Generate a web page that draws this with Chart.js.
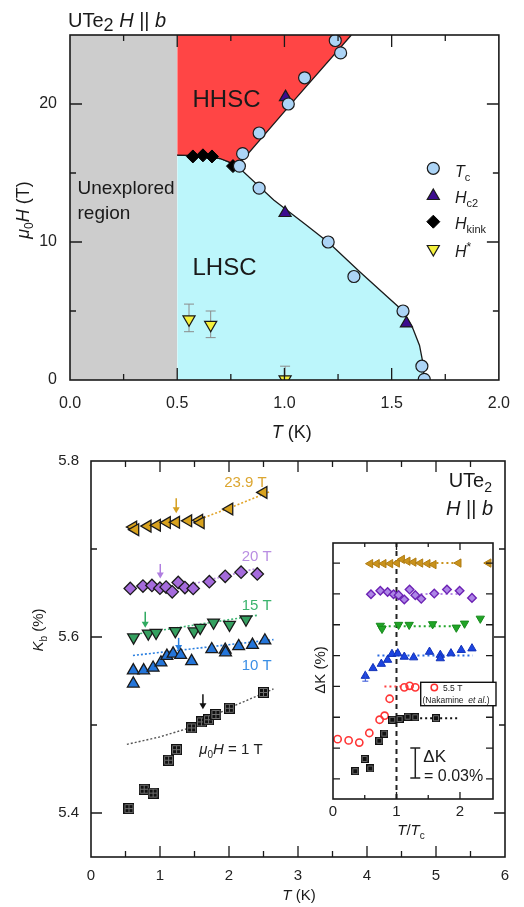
<!DOCTYPE html>
<html>
<head>
<meta charset="utf-8">
<script src="https://cdn.jsdelivr.net/npm/chart.js@4.4.1/dist/chart.umd.min.js"></script>
<style>
  body { margin: 0; background: #fff; }
  #wrap { position: relative; width: 524px; height: 907px; overflow: hidden; }
  canvas { position: absolute; }
</style>
</head>
<body>
<div id="wrap">
  <canvas id="phase" width="524" height="452" style="left:0;top:0"></canvas>
  <canvas id="knight" width="524" height="467" style="left:0;top:440px"></canvas>
  <canvas id="inset" width="234" height="320" style="left:290px;top:530px"></canvas>
</div>
<script>
// ------------------
// data: phase diagram (H || b)
// ------------------
const tcT = [1.237, 1.262, 1.094, 1.018, 0.882, 0.805, 0.79, 0.882, 1.204, 1.324, 1.553, 1.641, 1.652];
const tcH = [24.6, 23.7, 21.9, 20.0, 17.9, 16.4, 15.5, 13.9, 10.0, 7.5, 5.0, 1.0, 0.05];
const hc2T = [1.005, 1.003, 1.569];
const hc2H = [20.5, 12.1, 4.1];
const kinkT = [0.573, 0.62, 0.662, 0.76];
const kinkH = [16.2, 16.28, 16.2, 15.5];
const hstarT = [0.555, 0.656, 1.003];
const hstarH = [4.4, 4.0, 0.05];
const hstarLo = [3.5, 3.07, 0];
const hstarHi = [5.5, 5.0, 1.0];

// phase boundaries
const hhscT = [0.5, 0.62, 0.70, 0.74, 0.78, 1.05, 1.312];
const hhscH = [16.3, 16.25, 16.05, 15.8, 15.5, 20.35, 25];
const lhscT = [0.5, 0.62, 0.70, 0.74, 0.78, 0.95, 1.10, 1.207, 1.351, 1.45, 1.553, 1.60, 1.63, 1.645, 1.652];
const lhscH = [16.3, 16.25, 16.05, 15.8, 15.5, 13.04, 11.25, 9.95, 7.85, 6.45, 5.0, 3.7, 2.5, 1.3, 0];
const unexploredT = [0, 0.5];
const unexploredH = [25, 25];

// ------------------
// data: Knight shift K_b vs T
// ------------------
const k1T = [0.55, 0.77, 0.90, 1.125, 1.24, 1.458, 1.60, 1.703, 1.81, 2.005, 2.50];
const k1K = [5.405, 5.427, 5.4226, 5.460, 5.472, 5.4967, 5.5035, 5.506, 5.512, 5.519, 5.537];
const k10T = [0.613, 0.613, 0.763, 0.90, 1.014, 1.10, 1.19, 1.30, 1.458, 1.75, 1.945, 1.95, 2.14, 2.34, 2.52];
const k10K = [5.547, 5.562, 5.562, 5.565, 5.571, 5.5785, 5.581, 5.5795, 5.5725, 5.586, 5.5855, 5.5825, 5.5895, 5.591, 5.596];
const k15T = [0.617, 0.83, 0.943, 1.223, 1.493, 1.583, 1.776, 2.007, 2.246];
const k15K = [5.5996, 5.604, 5.6049, 5.6068, 5.6064, 5.6105, 5.6165, 5.614, 5.62];
const k20T = [0.569, 0.753, 0.883, 0.999, 1.088, 1.177, 1.264, 1.361, 1.481, 1.715, 1.945, 2.175, 2.41];
const k20K = [5.6552, 5.6579, 5.6586, 5.6555, 5.6567, 5.6513, 5.662, 5.6562, 5.6552, 5.6628, 5.669, 5.6737, 5.6716];
const k24T = [0.612, 0.642, 0.82, 0.956, 1.10, 1.233, 1.409, 1.568, 1.59, 2.005, 2.50];
const k24K = [5.725, 5.722, 5.726, 5.727, 5.730, 5.7303, 5.732, 5.7326, 5.7298, 5.7455, 5.7643];

// normal-state guide lines
const fit1T = [0.52, 1.0, 1.44, 2.02, 2.645];
const fit1K = [5.478, 5.4865, 5.497, 5.52, 5.541];
const fit10T = [0.608, 2.645];
const fit10K = [5.579, 5.597];
const fit15T = [0.714, 2.404];
const fit15K = [5.604, 5.6246];
const fit20T = [1.438, 2.428];
const fit20K = [5.6596, 5.6785];
const fit24T = [1.583, 2.0, 2.3, 2.6];
const fit24K = [5.734, 5.7465, 5.756, 5.7655];

// Tc arrows: 1 T, 10 T, 15 T, 20 T, 23.9 T
const arrowT = [1.622, 1.27, 0.786, 1.004, 1.235];
const arrowFrom = [5.535, 5.599, 5.6286, 5.683, 5.7577];
const arrowTo = [5.518, 5.584, 5.6105, 5.6664, 5.7407];

// ------------------
// data: inset, dK (offset units of 0.03 %) vs T/Tc
// ------------------
const inGoldV = [0.587, 0.691, 0.797, 0.902, 1.008, 1.087, 1.175, 1.269, 1.375, 1.49, 1.585, 1.978, 2.45];
const inGoldU = [6.98, 6.98, 6.98, 6.98, 7.0, 7.12, 7.06, 7.03, 7.0, 6.98, 6.95, 7.0, 7.0];
const inPurV = [0.598, 0.745, 0.86, 0.954, 1.033, 1.123, 1.206, 1.296, 1.39, 1.595, 1.795, 1.994, 2.189];
const inPurU = [5.99, 6.10, 6.06, 5.99, 5.96, 5.82, 6.14, 5.96, 5.84, 6.01, 6.14, 6.10, 5.87];
const inGrnV = [0.745, 0.772, 1.033, 1.20, 1.569, 1.942, 2.072, 2.320];
const inGrnU = [4.97, 4.87, 5.0, 5.0, 5.02, 4.91, 5.04, 5.20];
const inBluV = [0.509, 0.630, 0.761, 0.860, 0.929, 1.020, 1.123, 1.270, 1.52, 1.690, 1.690, 1.858, 2.020, 2.189];
const inBluU = [3.34, 3.59, 3.73, 3.86, 4.05, 4.07, 3.96, 3.94, 4.12, 4.02, 3.91, 4.07, 4.18, 4.23];
const inRedV = [0.073, 0.246, 0.414, 0.572, 0.734, 0.813, 0.892, 1.123, 1.207, 1.296];
const inRedU = [1.29, 1.25, 1.18, 1.49, 1.92, 2.05, 2.60, 2.97, 3.02, 2.97];
const inBlkV = [0.351, 0.498, 0.587, 0.729, 0.808, 0.934, 1.049, 1.175, 1.296, 1.622];
const inBlkU = [0.25, 0.65, 0.34, 1.24, 1.47, 1.92, 1.94, 2.02, 2.00, 1.97];

// inset guide lines (v range, level)
const inGoldLineV = [1.55, 1.97];
const inGoldLineU = [7.0, 7.0];
const inPurLineV = [1.3, 2.0];
const inPurLineU = [6.0, 6.0];
const inGrnLineV = [0.72, 2.0];
const inGrnLineU = [4.95, 4.95];
const inBluLineV = [0.70, 2.2];
const inBluLineU = [4.0, 4.0];
const inRedLineV = [0.81, 1.12];
const inRedLineU = [3.0, 3.0];
const inBlkLineV = [0.9, 2.0];
const inBlkLineU = [1.97, 1.97];

// ------------------
// helpers
// ------------------
const FONT = '"Liberation Sans", Arial, Helvetica, sans-serif';
const INK = '#1a1a1a';

function near(v, step) {
  const r = v / step;
  return Math.abs(r - Math.round(r)) < 1e-6;
}

function pts(xs, ys) {
  return xs.map((x, i) => ({ x: x, y: ys[i] }));
}

function markers(xs, ys, style, r, fill, edge, bw, rot) {
  return {
    data: pts(xs, ys), showLine: false,
    pointStyle: style, pointRadius: r, pointRotation: rot || 0,
    pointBackgroundColor: fill, pointBorderColor: edge, pointBorderWidth: bw
  };
}

function curve(xs, ys, color, width, dash, extra) {
  return Object.assign({
    data: pts(xs, ys), borderColor: color, borderWidth: width,
    borderDash: dash || [], pointRadius: 0, fill: false, tension: 0
  }, extra || {});
}

// black square with light cross, like the original symbols
function squareMark(size, cross) {
  const c = document.createElement('canvas');
  c.width = size; c.height = size;
  const g = c.getContext('2d');
  g.fillStyle = '#111';
  g.fillRect(0, 0, size, size);
  g.strokeStyle = '#6e6e6e';
  g.lineWidth = 1;
  g.beginPath();
  if (cross) {
    const m = Math.floor(size / 2) + 0.5;
    g.moveTo(m, 2); g.lineTo(m, size - 2);
    g.moveTo(2, m); g.lineTo(size - 2, m);
  }
  g.rect(1.5, 1.5, size - 3, size - 3);
  g.stroke();
  return c;
}

// text with mixed italic / sub / superscript parts
function rich(ctx, parts, x, y, align, rot) {
  ctx.save();
  ctx.translate(x, y);
  if (rot) ctx.rotate(rot);
  const fonts = parts.map(p => (p.it ? 'italic ' : '') + (p.sz || 16) + 'px ' + FONT);
  let w = 0;
  parts.forEach((p, i) => { ctx.font = fonts[i]; w += ctx.measureText(p.t).width; });
  let cx = align === 'center' ? -w / 2 : align === 'right' ? -w : 0;
  ctx.textAlign = 'left';
  ctx.textBaseline = 'alphabetic';
  parts.forEach((p, i) => {
    ctx.font = fonts[i];
    ctx.fillStyle = p.c || INK;
    ctx.fillText(p.t, cx, p.dy || 0);
    cx += ctx.measureText(p.t).width;
  });
  ctx.restore();
}

function mark(ctx, style, r, rot, fill, edge, bw, x, y) {
  ctx.save();
  ctx.fillStyle = fill;
  ctx.strokeStyle = edge;
  ctx.lineWidth = bw;
  Chart.helpers.drawPoint(ctx, { pointStyle: style, radius: r, rotation: rot || 0, borderWidth: bw }, x, y);
  ctx.restore();
}

// box + inward tick marks on all four sides
function frame(o) {
  return {
    id: 'frame',
    afterDatasetsDraw(chart) {
      const { ctx, chartArea: a } = chart;
      const sx = chart.scales.x, sy = chart.scales.y;
      ctx.save();
      ctx.strokeStyle = INK;
      ctx.lineWidth = 1.3;
      ctx.beginPath();
      sx.ticks.forEach(t => {
        if (!near(t.value, o.xMinor)) return;
        const p = sx.getPixelForValue(t.value);
        if (p < a.left + 2 || p > a.right - 2) return;
        const len = near(t.value, o.xMajor) ? o.major : o.minor;
        ctx.moveTo(p, a.bottom); ctx.lineTo(p, a.bottom - len);
        ctx.moveTo(p, a.top); ctx.lineTo(p, a.top + len);
      });
      sy.ticks.forEach(t => {
        if (!near(t.value, o.yMinor)) return;
        const p = sy.getPixelForValue(t.value);
        if (p < a.top + 2 || p > a.bottom - 2) return;
        const len = near(t.value, o.yMajor) ? o.major : o.minor;
        ctx.moveTo(a.left, p); ctx.lineTo(a.left + len, p);
        ctx.moveTo(a.right, p); ctx.lineTo(a.right - len, p);
      });
      ctx.stroke();
      ctx.lineWidth = o.border;
      ctx.strokeRect(a.left, a.top, a.width, a.height);
      ctx.restore();
    }
  };
}

function axis(min, max, step, size, pad, fontSize, fmt, isX, show) {
  return {
    type: 'linear', min: min, max: max,
    grid: { display: false, drawTicks: false },
    border: { display: false },
    afterFit: s => { if (isX) s.height = size; else s.width = size; },
    ticks: {
      display: show !== false,
      stepSize: step, includeBounds: true, autoSkip: false, maxRotation: 0,
      padding: pad, color: '#222', font: { family: FONT, size: fontSize },
      callback: fmt
    }
  };
}

const base = {
  responsive: false, animation: false, devicePixelRatio: 1, events: [],
  plugins: { legend: { display: false }, tooltip: { enabled: false } }
};

// ------------------
// top: phase diagram
// ------------------
const phaseNotes = {
  id: 'phaseNotes',
  beforeDatasetDraw(chart, args) {
    if (args.index !== 3) return;
    const { ctx, chartArea: a } = chart;
    const sx = chart.scales.x, sy = chart.scales.y;
    ctx.save();
    ctx.beginPath();
    ctx.rect(a.left, a.top, a.width, a.height);
    ctx.clip();
    ctx.strokeStyle = '#8c8c8c';
    ctx.lineWidth = 1;
    ctx.beginPath();
    hstarT.forEach((t, i) => {
      const x = sx.getPixelForValue(t);
      const y1 = sy.getPixelForValue(hstarLo[i]);
      const y2 = sy.getPixelForValue(hstarHi[i]);
      ctx.moveTo(x, y1); ctx.lineTo(x, y2);
      ctx.moveTo(x - 5, y1); ctx.lineTo(x + 5, y1);
      ctx.moveTo(x - 5, y2); ctx.lineTo(x + 5, y2);
    });
    ctx.stroke();
    ctx.restore();
  },
  afterDraw(chart) {
    const ctx = chart.ctx;
    rich(ctx, [{ t: 'UTe', sz: 20 }, { t: '2', sz: 18, dy: 4 }, { t: ' H', sz: 20, it: true },
      { t: ' || ', sz: 20 }, { t: 'b', sz: 20, it: true }], 68, 26.5, 'left');
    rich(ctx, [{ t: 'HHSC', sz: 24 }], 192.5, 106.5, 'left');
    rich(ctx, [{ t: 'LHSC', sz: 24 }], 192.5, 275, 'left');
    rich(ctx, [{ t: 'Unexplored', sz: 19 }], 77.5, 193.5, 'left');
    rich(ctx, [{ t: 'region', sz: 19 }], 77.5, 218.5, 'left');

    // legend
    mark(ctx, 'circle', 6, 0, '#acd4f6', INK, 1.2, 433.3, 168.3);
    mark(ctx, 'triangle', 7, 0, '#3c0c8e', INK, 1.2, 433.3, 196);
    mark(ctx, 'rectRot', 6.5, 0, '#000', '#000', 1, 433.3, 221.7);
    mark(ctx, 'triangle', 7, 180, '#f4f03c', INK, 1.2, 433.3, 249);
    rich(ctx, [{ t: 'T', sz: 16, it: true }, { t: 'c', sz: 11, dy: 4 }], 455, 176.7, 'left');
    rich(ctx, [{ t: 'H', sz: 16, it: true }, { t: 'c2', sz: 11, dy: 4 }], 455, 203.3, 'left');
    rich(ctx, [{ t: 'H', sz: 16, it: true }, { t: 'kink', sz: 11, dy: 4 }], 455, 229.3, 'left');
    rich(ctx, [{ t: 'H', sz: 16, it: true }, { t: '*', sz: 12, dy: -6 }], 455, 257.3, 'left');

    // axis titles
    rich(ctx, [{ t: 'T', sz: 18, it: true }, { t: ' (K)', sz: 18 }], 291.7, 438, 'center');
    rich(ctx, [{ t: '\u03bc', sz: 18, it: true }, { t: '0', sz: 12, dy: 4 }, { t: 'H', sz: 18, it: true },
      { t: ' (T)', sz: 18 }], 28.5, 210, 'center', -Math.PI / 2);
  }
};

new Chart(document.getElementById('phase'), {
  type: 'line',
  data: {
    datasets: [
      markers(tcT, tcH, 'circle', 6, '#acd4f6', INK, 1.2),
      markers(hc2T, hc2H, 'triangle', 7, '#3c0c8e', INK, 1.2),
      markers(kinkT, kinkH, 'rectRot', 6.5, '#000', '#000', 1),
      markers(hstarT, hstarH, 'triangle', 7, '#f4f03c', INK, 1.2, 180),
      curve(hhscT, hhscH, INK, 1.3, [], { fill: 'end', backgroundColor: '#ff4545' }),
      curve(lhscT, lhscH, INK, 1.3, [], { fill: 'origin', backgroundColor: '#bcf6fb' }),
      curve(unexploredT, unexploredH, 'rgba(0,0,0,0)', 1, [], { fill: 'origin', backgroundColor: '#cdcdcd' })
    ]
  },
  options: Object.assign({}, base, {
    layout: { padding: { left: 0, right: 12, top: 35, bottom: 0 } },
    scales: {
      x: axis(0, 2, 0.25, 72, 14, 16, v => near(v, 0.5) ? v.toFixed(1) : '', true),
      y: axis(0, 25, 5, 70, 13, 16, v => near(v, 10) ? String(v) : '', false)
    }
  }),
  plugins: [frame({ xMinor: 0.25, xMajor: 0.5, yMinor: 5, yMajor: 10, major: 12, minor: 6, border: 1.6 }), phaseNotes]
});

// ------------------
// bottom: K_b vs T
// ------------------
const SQ = squareMark(11, true);
const SQS = squareMark(8, false);
const OY = 440;

const knightNotes = {
  id: 'knightNotes',
  afterDatasetsDraw(chart) {
    const ctx = chart.ctx;
    const sx = chart.scales.x, sy = chart.scales.y;
    const cols = ['#111', '#2a7fe0', '#2faa60', '#b07ee0', '#d6a020'];
    arrowT.forEach((t, i) => {
      const x = sx.getPixelForValue(t);
      const y1 = sy.getPixelForValue(arrowFrom[i]);
      const y2 = sy.getPixelForValue(arrowTo[i]);
      ctx.save();
      ctx.strokeStyle = cols[i];
      ctx.fillStyle = cols[i];
      ctx.lineWidth = 1.5;
      ctx.beginPath();
      ctx.moveTo(x, y1); ctx.lineTo(x, y2 - 5);
      ctx.stroke();
      ctx.beginPath();
      ctx.moveTo(x - 3.5, y2 - 6); ctx.lineTo(x + 3.5, y2 - 6); ctx.lineTo(x, y2);
      ctx.closePath();
      ctx.fill();
      ctx.restore();
    });
  },
  afterDraw(chart) {
    const ctx = chart.ctx;
    rich(ctx, [{ t: 'UTe', sz: 20 }, { t: '2', sz: 14, dy: 5 }], 492, 486.7 - OY, 'right');
    rich(ctx, [{ t: 'H', sz: 20, it: true }, { t: ' || ', sz: 20 }, { t: 'b', sz: 20, it: true }], 493, 515 - OY, 'right');
    rich(ctx, [{ t: '23.9 T', sz: 15, c: '#dca631' }], 266.7, 486.5 - OY, 'right');
    rich(ctx, [{ t: '20 T', sz: 15, c: '#b98ee2' }], 271.7, 560.5 - OY, 'right');
    rich(ctx, [{ t: '15 T', sz: 15, c: '#3cb46e' }], 271.7, 610 - OY, 'right');
    rich(ctx, [{ t: '10 T', sz: 15, c: '#3b8fe6' }], 271.7, 670 - OY, 'right');
    rich(ctx, [{ t: '\u03bc', sz: 15, it: true, c: '#222' }, { t: '0', sz: 10, dy: 4, c: '#222' },
      { t: 'H', sz: 15, it: true, c: '#222' }, { t: ' = 1 T', sz: 15, c: '#222' }], 199.3, 754 - OY, 'left');
    rich(ctx, [{ t: 'T', sz: 15, it: true }, { t: ' (K)', sz: 15 }], 299, 900 - OY, 'center');
    rich(ctx, [{ t: 'K', sz: 15, it: true }, { t: 'b', sz: 10, dy: 4 }, { t: ' (%)', sz: 15 }],
      43, 630 - OY, 'center', -Math.PI / 2);
  }
};

new Chart(document.getElementById('knight'), {
  type: 'line',
  data: {
    datasets: [
      markers(k1T, k1K, SQ, 5, '#111', '#111', 0),
      markers(k10T, k10K, 'triangle', 6.8, '#2475d9', INK, 1.3),
      markers(k15T, k15K, 'triangle', 6.8, '#35a060', INK, 1.3, 180),
      markers(k20T, k20K, 'rectRot', 6.2, '#a56bdc', INK, 1.3),
      markers(k24T, k24K, 'triangle', 6.8, '#d8a21e', INK, 1.3, -90),
      curve(fit1T, fit1K, '#555', 1.4, [2, 2]),
      curve(fit10T, fit10K, '#2a7fe0', 1.6, [2, 2]),
      curve(fit15T, fit15K, '#3cb371', 1.6, [2, 2]),
      curve(fit20T, fit20K, '#b88de0', 1.6, [2, 2]),
      curve(fit24T, fit24K, '#e2a52a', 1.6, [2, 2])
    ]
  },
  options: Object.assign({}, base, {
    layout: { padding: { left: 0, right: 19, top: 19, bottom: 0 } },
    scales: {
      x: axis(0, 6, 0.5, 50, 10, 15, v => near(v, 1) ? String(Math.round(v)) : '', true),
      y: axis(5.35, 5.8, 0.1, 91, 12, 15, v => (near(v, 0.2) && v > 5.38) ? v.toFixed(1) : '', false)
    }
  }),
  plugins: [frame({ xMinor: 0.5, xMajor: 1, yMinor: 0.1, yMajor: 0.2, major: 11, minor: 6, border: 1.6 }), knightNotes]
});

// ------------------
// inset: dK vs T/Tc
// ------------------
const IX = 290, IY = 530;

const insetNotes = {
  id: 'insetNotes',
  beforeDraw(chart) {
    const { ctx, chartArea: a } = chart;
    ctx.save();
    ctx.fillStyle = '#fff';
    ctx.fillRect(a.left, a.top, a.width, a.height);
    ctx.restore();
  },
  afterDatasetsDraw(chart) {
    const ctx = chart.ctx;
    const sx = chart.scales.x, sy = chart.scales.y;
    // scale bar, 1 unit = 0.03 %
    const bx = sx.getPixelForValue(1.296);
    const b1 = sy.getPixelForValue(1.0), b2 = sy.getPixelForValue(0.03);
    ctx.save();
    ctx.strokeStyle = '#222';
    ctx.lineWidth = 1.5;
    ctx.beginPath();
    ctx.moveTo(bx, b1); ctx.lineTo(bx, b2);
    ctx.moveTo(bx - 5, b1); ctx.lineTo(bx + 5, b1);
    ctx.moveTo(bx - 5, b2); ctx.lineTo(bx + 5, b2);
    ctx.stroke();
    // error bar on lowest 10 T point
    const ex = sx.getPixelForValue(inBluV[0]);
    const eLo = sy.getPixelForValue(inBluU[0] - 0.17);
    ctx.strokeStyle = '#3050d8';
    ctx.lineWidth = 1;
    ctx.beginPath();
    ctx.moveTo(ex, eLo); ctx.lineTo(ex, sy.getPixelForValue(inBluU[0] + 0.17));
    ctx.moveTo(ex - 3, eLo); ctx.lineTo(ex + 3, eLo);
    ctx.stroke();
    ctx.restore();
  },
  afterDraw(chart) {
    const ctx = chart.ctx;
    // legend box for Nakamine et al.
    ctx.save();
    ctx.fillStyle = '#fff';
    ctx.fillRect(420.7 - IX, 682.3 - IY, 75.3, 23.4);
    ctx.strokeStyle = '#111';
    ctx.lineWidth = 1.4;
    ctx.strokeRect(420.7 - IX, 682.3 - IY, 75.3, 23.4);
    ctx.restore();
    mark(ctx, 'circle', 3.2, 0, 'rgba(255,255,255,0)', '#ff3030', 1.5, 434.3 - IX, 687.5 - IY);
    rich(ctx, [{ t: '5.5 T', sz: 8.5 }], 443 - IX, 690.5 - IY, 'left');
    rich(ctx, [{ t: '(Nakamine  ', sz: 8.5 }, { t: 'et al.', sz: 8.5, it: true }, { t: ')', sz: 8.5 }],
      422.5 - IX, 703 - IY, 'left');
    rich(ctx, [{ t: '\u0394K', sz: 17 }], 423.3 - IX, 762 - IY, 'left');
    rich(ctx, [{ t: '= 0.03%', sz: 16 }], 424 - IX, 780.5 - IY, 'left');
    rich(ctx, [{ t: 'T', sz: 15, it: true }, { t: '/', sz: 15 }, { t: 'T', sz: 15, it: true }, { t: 'c', sz: 10, dy: 4 }],
      411 - IX, 835 - IY, 'center');
    rich(ctx, [{ t: '\u0394K (%)', sz: 15 }], 325 - IX, 670 - IY, 'center', -Math.PI / 2);
  }
};

new Chart(document.getElementById('inset'), {
  type: 'line',
  data: {
    datasets: [
      markers(inBlkV, inBlkU, SQS, 4, '#111', '#111', 0),
      markers(inRedV, inRedU, 'circle', 3.6, 'rgba(255,255,255,0)', '#ff3535', 1.6),
      markers(inBluV, inBluU, 'triangle', 4.8, '#1c44e0', '#1232b8', 1),
      markers(inGrnV, inGrnU, 'triangle', 4.8, '#20a526', '#178a1c', 1, 180),
      markers(inPurV, inPurU, 'rectRot', 4.3, '#ad85e6', '#6c22b4', 1.4),
      markers(inGoldV, inGoldU, 'triangle', 4.8, '#c9921c', '#b07c12', 1, -90),
      curve(inBlkLineV, inBlkLineU, '#111', 2, [2, 3]),
      curve(inRedLineV, inRedLineU, '#ff4040', 2, [2, 3]),
      curve(inBluLineV, inBluLineU, '#2a6ae0', 2, [2, 3]),
      curve(inGrnLineV, inGrnLineU, '#22a52a', 2, [2, 3]),
      curve(inPurLineV, inPurLineU, '#b58ae6', 2, [2, 3]),
      curve(inGoldLineV, inGoldLineU, '#c9921c', 2, [2, 3]),
      curve([1, 1], [-0.65, 7.65], '#222', 2, [5, 4])
    ]
  },
  options: Object.assign({}, base, {
    layout: { padding: { left: 0, right: 31, top: 13, bottom: 0 } },
    scales: {
      x: axis(0, 2.52, 0.5, 51, 4, 15, v => near(v, 1) ? String(Math.round(v)) : '', true),
      y: axis(-0.65, 7.65, 1, 43, 4, 15, () => '', false, false)
    }
  }),
  plugins: [frame({ xMinor: 0.5, xMajor: 1, yMinor: 1, yMajor: 1, major: 7, minor: 4, border: 1.6 }), insetNotes]
});
</script>
</body>
</html>
